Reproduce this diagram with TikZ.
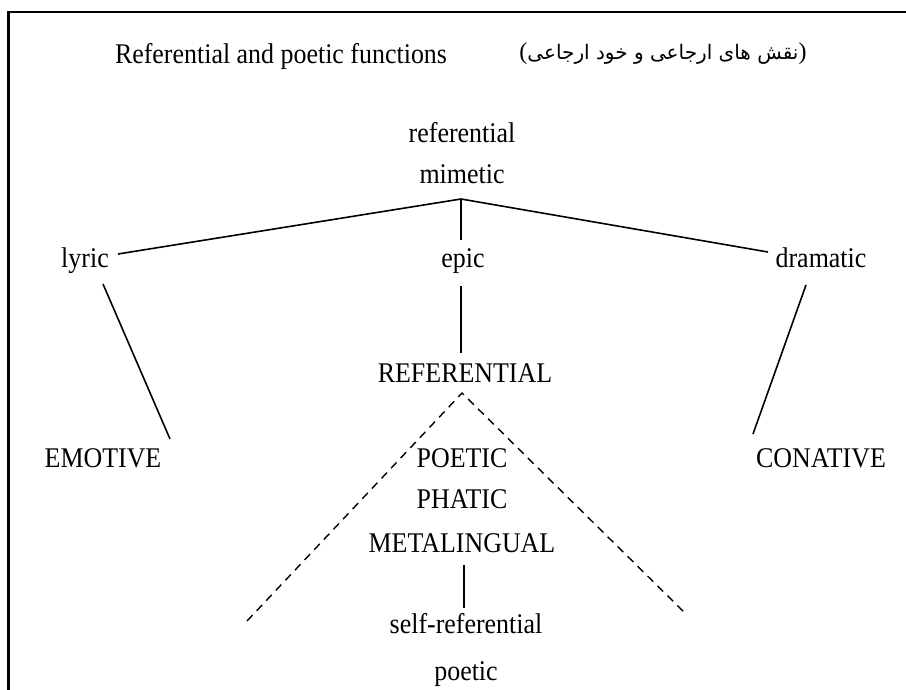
\documentclass[tikz,border=0pt]{standalone}
\usepackage{fontspec}
\setmainfont{Liberation Serif}[FakeStretch=0.91]
\newfontfamily\latinparen{Liberation Serif}
\newfontfamily\arabicfont[Script=Arabic]{DejaVu Sans}
\TeXXeTstate=1
\begin{document}
\begin{tikzpicture}[x=1pt,y=-1pt,
  lbl/.style={anchor=base,inner sep=0pt,font=\fontsize{28.5}{34}\selectfont},
  tline/.style={line width=1.6pt},
  dline/.style={line width=1.4pt,dash pattern=on 8pt off 6pt},
  frameline/.style={line width=2.6pt}]
\useasboundingbox (0,0) rectangle (906,689);
% frame
\draw[frameline] (8.5,690) -- (8.5,12) -- (907,12);
% texts
\node[lbl] (title) at (281,63) {Referential and poetic functions};
\node[anchor=base,inner sep=0pt,font=\fontsize{20}{24}\selectfont] (fa) at (663,59)
  {{\latinparen\fontsize{24}{28}\selectfont(}{\arabicfont\beginR نقش های ارجاعی و خود ارجاعی\endR}{\latinparen\fontsize{24}{28}\selectfont)}};
\node[lbl] (ref1) at (462,142) {referential};
\node[lbl] (mim) at (462,183) {mimetic};
\node[lbl] (lyric) at (85,267) {lyric};
\node[lbl] (epic) at (463,267) {epic};
\node[lbl] (dram) at (821,267) {dramatic};
\node[lbl] (REF) at (465,382) {REFERENTIAL};
\node[lbl] (emo) at (103,467) {EMOTIVE};
\node[lbl] (poe) at (462,467) {POETIC};
\node[lbl] (pha) at (462,508) {PHATIC};
\node[lbl] (meta) at (462,552) {METALINGUAL};
\node[lbl] (con) at (821,467) {CONATIVE};
\node[lbl] (self) at (466,633) {self-referential};
\node[lbl] (poe2) at (466,680) {poetic};
% connector ends
\coordinate (apex) at (461,199);
\coordinate (lyricR) at (118,254);
\coordinate (dramL) at (768,252);
\coordinate (epicT) at (461,240);
\coordinate (epicB) at (461,286);
\coordinate (refT) at (461,353);
\coordinate (lyricB) at (103,284);
\coordinate (emoT) at (170,439);
\coordinate (dramB) at (806,285);
\coordinate (conT) at (753,434);
\coordinate (dtop) at (462,393);
\coordinate (dl) at (247,621);
\coordinate (dr) at (685,613);
\coordinate (metaB) at (464,565);
\coordinate (selfT) at (464,608);
% connectors
\draw[tline] (lyricR) -- (apex) -- (dramL);
\draw[tline] (apex) -- (epicT);
\draw[tline] (epicB) -- (refT);
\draw[tline] (lyricB) -- (emoT);
\draw[tline] (dramB) -- (conT);
\draw[tline] (metaB) -- (selfT);
\draw[dline] (dl) -- (dtop) -- (dr);
\end{tikzpicture}
\end{document}
